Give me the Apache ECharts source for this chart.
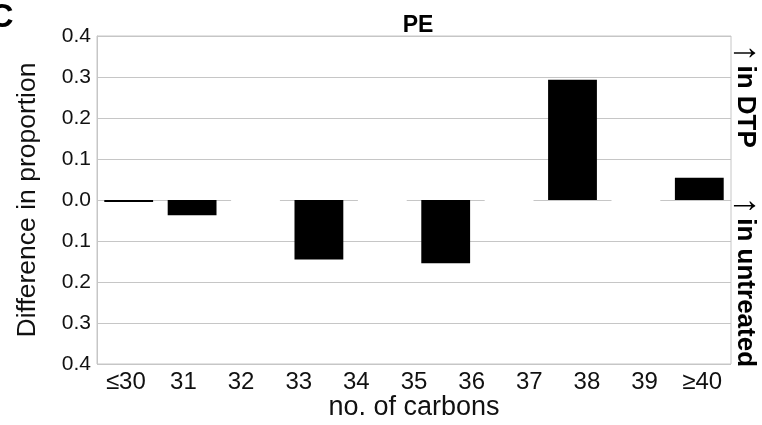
<!DOCTYPE html>
<html>
<head>
<meta charset="utf-8">
<script src="https://cdn.jsdelivr.net/npm/echarts@6/dist/echarts.min.js"></script>
<style>
  html, body { margin: 0; padding: 0; background: #fff; }
  #chart { width: 762px; height: 425px; }
</style>
</head>
<body>
<div id="chart"></div>
<script>
// Bar slots along the carbon axis (10 slots, bars drawn where a value is non-zero)
const slots = ['s0', 's1', 's2', 's3', 's4', 's5', 's6', 's7', 's8', 's9'];
// Difference in proportion (DTP minus untreated) for each slot
const diffValues = [-0.005, -0.037, 0, -0.145, 0, -0.154, 0, 0.293, 0, 0.054];
// Carbon-number labels written under the axis
const carbonLabels = ['\u226430', '31', '32', '33', '34', '35', '36', '37', '38', '39', '\u226540'];
// Value-axis ticks
const yMin = -0.4, yMax = 0.4, yStep = 0.1;

const FONT = '"Liberation Sans", Arial, Helvetica, sans-serif';
const GRID_COLOR = '#c6c6c6';

const chart = echarts.init(document.getElementById('chart'), null, { renderer: 'canvas' });

const barData = diffValues.map(v =>
  v === 0
    ? { value: 0, itemStyle: { color: '#fff', borderColor: '#fff', borderWidth: 2 } }
    : v
);

// Rotated side note: thin arrow followed by bold text
function sideNote(text, y) {
  return {
    type: 'text', x: 745, y: y, rotation: -Math.PI / 2,
    style: {
      text: '{a|\u2191} {b|' + text + '}',
      textAlign: 'center', textVerticalAlign: 'middle',
      rich: {
        a: { fontFamily: FONT, fontSize: 36, fontWeight: 'normal', fill: '#000', color: '#000' },
        b: { fontFamily: FONT, fontSize: 26, fontWeight: 'bold', fill: '#000', color: '#000' }
      }
    }
  };
}

chart.setOption({
  animation: false,
  backgroundColor: '#fff',
  textStyle: { fontFamily: FONT },
  title: {
    text: 'PE',
    left: 413,
    top: 9,
    textAlign: 'center',
    textStyle: { fontFamily: FONT, fontWeight: 'bold', fontSize: 23, color: '#000' }
  },
  grid: {
    left: 97, right: 31, top: 36, bottom: 61,
    outerBoundsMode: 'none',
    containLabel: false,
    show: true, borderColor: GRID_COLOR, borderWidth: 1, backgroundColor: 'transparent'
  },
  xAxis: [
    {
      type: 'category',
      data: slots,
      axisLine: { show: false },
      axisTick: { show: false },
      axisLabel: { show: false },
      splitLine: { show: false }
    },
    {
      type: 'category',
      data: carbonLabels,
      position: 'bottom',
      boundaryGap: true,
      axisLine: { show: false },
      axisTick: { show: false },
      splitLine: { show: false },
      axisLabel: { fontSize: 24, color: '#111', fontFamily: FONT, margin: 6, interval: 0 },
      name: 'no. of carbons',
      nameLocation: 'middle',
      nameGap: 30,
      nameMoveOverlap: false,
      nameTextStyle: { fontSize: 27, color: '#111', fontFamily: FONT }
    }
  ],
  yAxis: {
    type: 'value',
    min: yMin,
    max: yMax,
    interval: yStep,
    axisLine: { show: true, lineStyle: { color: GRID_COLOR } },
    axisTick: { show: false },
    splitLine: { show: true, lineStyle: { color: GRID_COLOR, width: 1 } },
    axisLabel: {
      fontSize: 21, color: '#111', fontFamily: FONT, margin: 6,
      formatter: v => Math.abs(v).toFixed(1)
    },
    name: 'Difference in proportion',
    nameLocation: 'middle',
    nameGap: 56,
    nameTextStyle: { fontSize: 26.5, color: '#111', fontFamily: FONT }
  },
  series: [{
    type: 'bar',
    xAxisIndex: 0,
    data: barData,
    barCategoryGap: '23%',
    itemStyle: { color: '#000' }
  }],
  graphic: [
    {
      type: 'text', left: -11, top: 1,
      style: { text: 'C', font: 'bold 34px ' + FONT, fill: '#000' }
    },
    sideNote('in DTP', 96),
    sideNote('in untreated', 282)
  ]
});
</script>
</body>
</html>
